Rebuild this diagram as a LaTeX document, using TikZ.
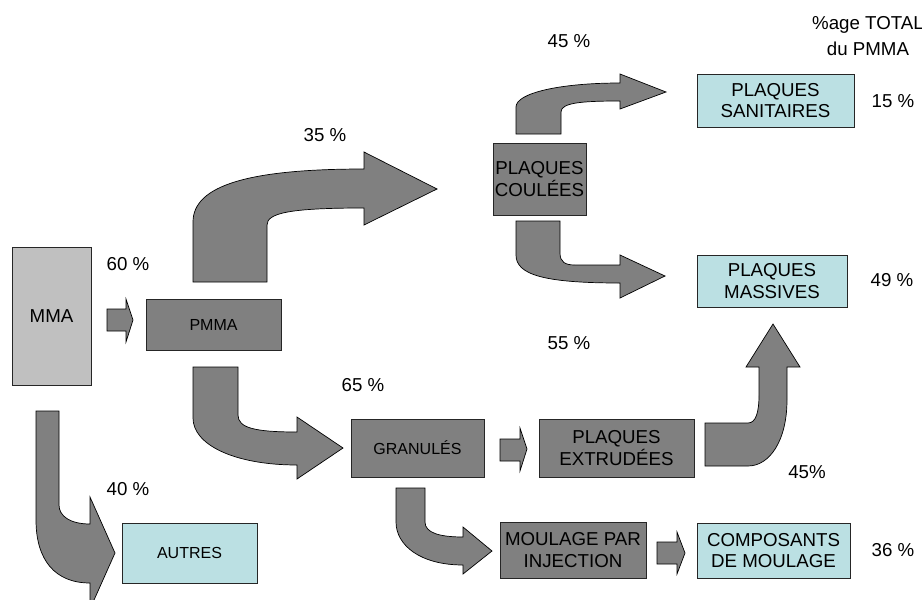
\documentclass[tikz,border=0pt]{standalone}
\usepackage{fontspec}
\setmainfont{Liberation Sans}
\definecolor{boxgray}{HTML}{808080}
\definecolor{mmagray}{HTML}{C0C0C0}
\definecolor{lightblue}{HTML}{BBE0E3}
\newcommand\bigtxt{\fontsize{18.7}{21.5}\selectfont}
\newcommand\smalltxt{\fontsize{16}{18}\selectfont}
\begin{document}
\begin{tikzpicture}[x=1pt,y=-1pt,
  box/.style={draw=black!85, line width=0.8pt, inner sep=0pt, align=center, font=\bigtxt},
  darkbox/.style={box, fill=boxgray},
  bluebox/.style={box, fill=lightblue},
  lbl/.style={inner sep=0pt, align=center, font=\bigtxt},
  arr/.style={fill=boxgray, draw=black, line width=0.7pt, line join=miter}]
\clip (0,0) rectangle (922,600);
\fill[white] (0,0) rectangle (922,600);

% boxes
\node[box, fill=mmagray, minimum width=79pt, minimum height=138pt] (mma) at (51.5,316) {MMA};
\node[darkbox, font=\smalltxt, minimum width=135pt, minimum height=51pt] (pmma) at (213.5,324.5) {PMMA};
\node[darkbox, minimum width=93pt, minimum height=72pt] (coulees) at (539.5,179) {PLAQUES\\COULÉES};
\node[bluebox, minimum width=157pt, minimum height=53pt] (sanit) at (775.5,100.5) {PLAQUES\\SANITAIRES};
\node[bluebox, minimum width=150pt, minimum height=52pt] (massives) at (772,281) {PLAQUES\\MASSIVES};
\node[darkbox, font=\smalltxt, minimum width=133pt, minimum height=58pt] (gran) at (417.5,448) {GRANULÉS};
\node[darkbox, minimum width=155pt, minimum height=58pt] (extr) at (616.5,448) {PLAQUES\\EXTRUDÉES};
\node[darkbox, minimum width=146pt, minimum height=56pt] (moul) at (573,550) {MOULAGE PAR\\INJECTION};
\node[bluebox, minimum width=153pt, minimum height=55pt] (comp) at (773.5,550.5) {COMPOSANTS\\DE MOULAGE};
\node[bluebox, font=\smalltxt, minimum width=135pt, minimum height=60pt] (autres) at (189.5,553) {AUTRES};

% labels
\node[lbl] (l60) at (128,264) {60 \%};
\node[lbl] (l35) at (325,135) {35 \%};
\node[lbl] (l45a) at (569,41) {45 \%};
\node[lbl, font=\fontsize{18.7}{26}\selectfont] (ltot) at (868,36) {\%age TOTAL\\du PMMA};
\node[lbl] (l15) at (893,101) {15 \%};
\node[lbl] (l49) at (892,280) {49 \%};
\node[lbl] (l55) at (569,343) {55 \%};
\node[lbl] (l65) at (363,385) {65 \%};
\node[lbl] (l45b) at (807,472) {45\%};
\node[lbl] (l40) at (128,489) {40 \%};
\node[lbl] (l36) at (893,550) {36 \%};

% small straight arrows
\draw[arr] (107,309) -- (126,309) -- (126,299) -- (133,320) -- (126,342) -- (126,331) -- (107,331) -- cycle;
\draw[arr] (500,439) -- (520,439) -- (520,428) -- (527,449) -- (520,471) -- (520,461) -- (500,461) -- cycle;
\draw[arr] (657,542) -- (677,542) -- (677,532) -- (685,553) -- (677,574) -- (677,564) -- (657,564) -- cycle;

% PMMA -> plaques coulees (35 %)
\draw[arr] (193,282) -- (193,222) .. controls (193,185) and (250,169) .. (364,169)
  -- (364,152) -- (437,189) -- (364,225) -- (364,208)
  .. controls (290,208) and (267,213) .. (267,225) -- (267,282) -- cycle;

% plaques coulees -> sanitaires (45 %)
\draw[arr] (516,134) -- (516,107) .. controls (516,93) and (560,83) .. (620,83)
  -- (620,74) -- (666,92) -- (620,109) -- (620,101)
  .. controls (580,101) and (561,103) .. (561,112) -- (561,134) -- cycle;

% plaques coulees -> massives (55 %)
\draw[arr] (516,221) -- (516,255) .. controls (516,275) and (545,283) .. (620,283)
  -- (620,298) -- (665,276) -- (620,255) -- (620,265) -- (575,265)
  .. controls (565,265) and (560,262) .. (560,253) -- (560,221) -- cycle;

% PMMA -> granules (65 %)
\draw[arr] (193,367) -- (193,418) .. controls (193,445) and (235,465) .. (297,465)
  -- (297,479) -- (343,448) -- (297,417) -- (297,432)
  .. controls (255,432) and (238,428) .. (238,415) -- (238,367) -- cycle;

% granules -> moulage
\draw[arr] (396,488) -- (396,522) .. controls (396,545) and (420,565) .. (463,565)
  -- (463,574) -- (492,551) -- (463,527) -- (463,537)
  .. controls (440,537) and (425,533) .. (425,522) -- (425,488) -- cycle;

% extrudees -> massives (45%)
\draw[arr] (705,423) -- (748,423) .. controls (756,423) and (759,412) .. (759,395)
  -- (759,367) -- (746,367) -- (773,324) -- (800,367) -- (787,367) -- (787,400)
  .. controls (787,440) and (770,466) .. (748,466) -- (705,466) -- cycle;

% MMA -> autres (40 %)
\draw[arr] (36,411) -- (59,411) -- (59,505) .. controls (59,516) and (70,524) .. (90,524)
  -- (90,497) -- (115,553) -- (90,609) -- (90,583)
  .. controls (55,583) and (36,560) .. (36,520) -- cycle;
\end{tikzpicture}
\end{document}
